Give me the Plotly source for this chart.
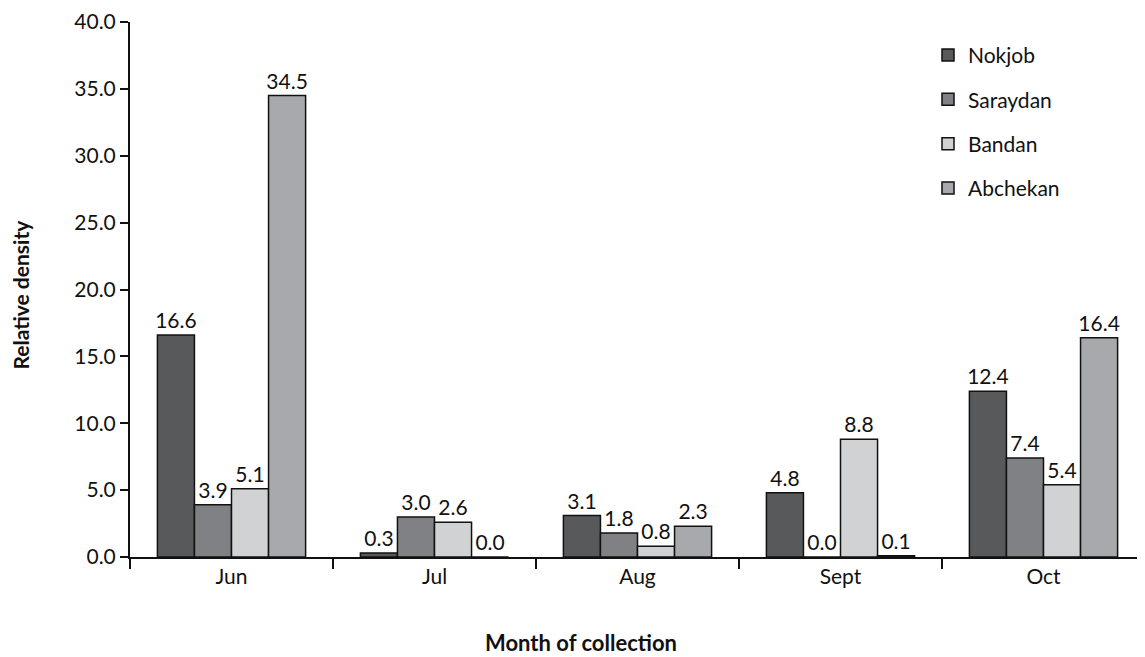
import plotly.graph_objects as go

months = ["Jun", "Jul", "Aug", "Sept", "Oct"]
nokjob = [16.6, 0.3, 3.1, 4.8, 12.4]
saraydan = [3.9, 3.0, 1.8, 0.0, 7.4]
bandan = [5.1, 2.6, 0.8, 8.8, 5.4]
abchekan = [34.5, 0.0, 2.3, 0.1, 16.4]

series = [
    ("Nokjob", nokjob, "#58595b"),
    ("Saraydan", saraydan, "#808184"),
    ("Bandan", bandan, "#d1d2d4"),
    ("Abchekan", abchekan, "#a7a9ac"),
]

FONT = "Lato"
FS = 21

fig = go.Figure()
for name, vals, color in series:
    fig.add_trace(go.Bar(
        x=months, y=vals, name=name, legendgroup=name,
        marker=dict(color=color, line=dict(color="#111111", width=1.5)),
        text=[f"{v:.1f}" for v in vals],
        textposition="outside", textangle=0, constraintext="none",
        outsidetextfont=dict(family=FONT, size=FS, color="#111111"),
        cliponaxis=False,
    ))

# page has an 8px body margin; compensate
W, H = 1137, 649
L, T, B, R = 122, 9, 100, 0
plot_w = W - L - R
plot_h = H - T - B

fig.update_layout(
    width=W, height=H,
    margin=dict(l=L, r=R, t=T, b=B),
    paper_bgcolor="white", plot_bgcolor="white",
    barmode="group", bargap=0.27, bargroupgap=0,
    font=dict(family=FONT, size=FS, color="#111111"),
    showlegend=True,
    legend=dict(x=(928 - 130) / plot_w, y=1 - (30 - 17) / plot_h,
                xanchor="left", yanchor="top",
                font=dict(family=FONT, size=FS, color="#111111"),
                tracegroupgap=14, itemwidth=30,
                bgcolor="rgba(0,0,0,0)"),
    xaxis=dict(
        showline=True, linecolor="#111111", linewidth=2,
        ticks="outside", tickson="boundaries", ticklen=10, tickwidth=1.5,
        tickcolor="#111111", tickfont=dict(family=FONT, size=FS),
        showgrid=False, zeroline=False,
    ),
    yaxis=dict(
        range=[0, 40], dtick=5, tickformat=".1f",
        showline=True, linecolor="#111111", linewidth=2,
        ticks="outside", ticklen=8, tickwidth=1.5, tickcolor="#111111",
        tickfont=dict(family=FONT, size=FS), ticklabeloverflow="allow",
        showgrid=False, zeroline=False,
    ),
    annotations=[
        dict(text="<b>Month of collection</b>", xref="paper", yref="paper",
             x=(581 - 130) / plot_w, y=-(643 - 557) / plot_h,
             xanchor="center", yanchor="middle", showarrow=False,
             font=dict(family=FONT, size=22, color="#111111")),
        dict(text="<b>Relative density</b>", xref="paper", yref="paper",
             x=(20 - 130) / plot_w, y=1 - (292 - 17) / plot_h, textangle=-90,
             xanchor="center", yanchor="middle", showarrow=False,
             font=dict(family=FONT, size=21, color="#111111")),
    ],
)

fig.write_html("out.html")
